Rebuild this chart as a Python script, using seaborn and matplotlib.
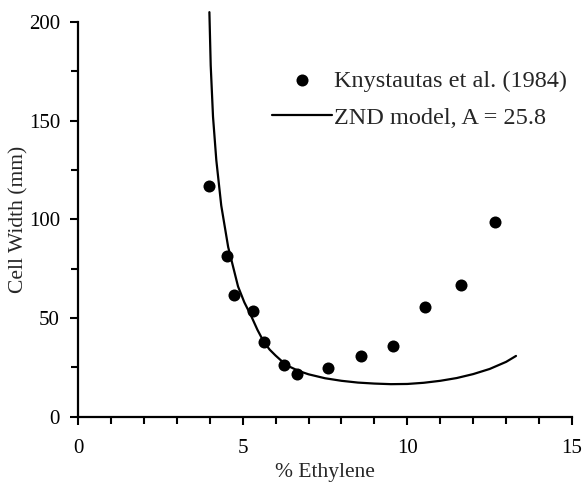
import matplotlib
matplotlib.use('Agg')
import matplotlib.pyplot as plt
import seaborn as sns
import pandas as pd
from matplotlib.ticker import MultipleLocator

# Measured cell widths
exp_x = [3.97, 4.52, 4.73, 5.30, 5.64, 6.27, 6.65, 7.60, 8.60, 9.55, 10.55, 11.63, 12.66]
exp_y = [117, 81.4, 61.8, 53.6, 37.8, 26.2, 21.5, 24.7, 30.8, 35.9, 55.7, 66.9, 98.8]

# ZND model curve
znd_x = [3.99, 4.03, 4.10, 4.20, 4.35, 4.56, 4.86, 5.05, 5.26, 5.45, 5.64, 5.82, 6.0, 6.2,
         6.42, 6.7, 7.0, 7.5, 8.0, 8.5, 9.0, 9.5, 10.0, 10.5, 11.0, 11.5, 12.0, 12.5,
         13.0, 13.3]
znd_y = [205, 178, 152, 130, 107, 86, 66, 58, 51, 44, 38, 34, 31, 28,
         25.4, 23.2, 21.5, 19.5, 18.2, 17.3, 16.8, 16.5, 16.6, 17.2, 18.2, 19.6, 21.6, 24.2,
         27.8, 30.8]

exp = pd.DataFrame({'x': exp_x, 'y': exp_y})
znd = pd.DataFrame({'x': znd_x, 'y': znd_y})

sns.set_style('ticks')
plt.rcParams['font.family'] = ['Liberation Serif', 'DejaVu Serif']

fig = plt.figure(figsize=(5.82, 4.84), dpi=100)
ax = fig.add_axes([0.134, 0.139, 0.8488, 0.8155])

sns.lineplot(data=znd, x='x', y='y', ax=ax, color='black', linewidth=1.6,
             label='ZND model, A = 25.8', clip_on=False)
sns.scatterplot(data=exp, x='x', y='y', ax=ax, color='black', s=75,
                edgecolor='black', linewidth=0, label='Knystautas et al. (1984)', zorder=3)

ax.set_xlim(0, 15)
ax.set_ylim(0, 200)
ax.xaxis.set_major_locator(MultipleLocator(5))
ax.xaxis.set_minor_locator(MultipleLocator(1))
ax.yaxis.set_major_locator(MultipleLocator(50))
ax.yaxis.set_minor_locator(MultipleLocator(25))
ax.tick_params(which='both', direction='out', width=1.5, colors='black', labelsize=15)
ax.tick_params(which='major', length=6)
ax.tick_params(which='minor', length=5)
ax.tick_params(axis='x', which='major', pad=10)
ax.tick_params(axis='y', which='major', pad=7)
for side in ['top', 'right']:
    ax.spines[side].set_visible(False)
for side in ['left', 'bottom']:
    ax.spines[side].set_linewidth(1.6)
    ax.spines[side].set_color('black')

ax.set_xlabel('% Ethylene', fontsize=15.5, labelpad=3.5)
ax.set_ylabel('Cell Width (mm)', fontsize=15.5, labelpad=0.5)

handles, labels = ax.get_legend_handles_labels()
ax.legend(handles[::-1], labels[::-1], loc='upper left', bbox_to_anchor=(0.392, 0.879),
          frameon=False, fontsize=17.5, handlelength=2.5, handletextpad=0.05,
          borderpad=0, borderaxespad=0, labelspacing=0.62)

fig.savefig('out.png', dpi=100)
